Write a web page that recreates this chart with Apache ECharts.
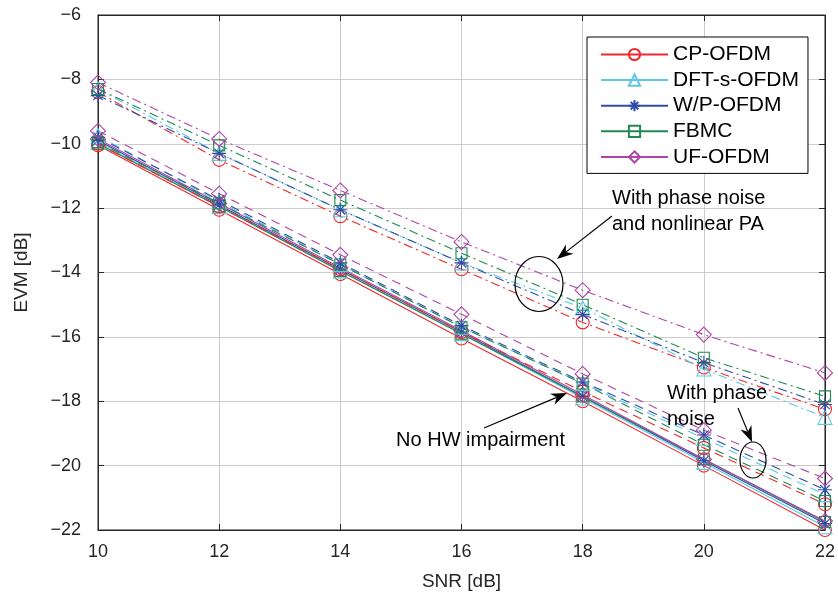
<!DOCTYPE html>
<html>
<head>
<meta charset="utf-8">
<script src="https://cdn.jsdelivr.net/npm/echarts@6/dist/echarts.min.js"></script>
<style>
html,body{margin:0;padding:0;background:#fff;}
#chart{width:838px;height:598px;}
</style>
</head>
<body>
<div id="chart"></div>
<script>
// ---- data ----
const snr = [10, 12, 14, 16, 18, 20, 22];
const xTicks = [10, 12, 14, 16, 18, 20, 22];
const yTicks = [-22, -20, -18, -16, -14, -12, -10, -8, -6];
const schemes = ['CP-OFDM', 'DFT-s-OFDM', 'W/P-OFDM', 'FBMC', 'UF-OFDM'];

// No HW impairment (solid)
const noHW_CP   = [-10.05, -12.05, -14.05, -16.05, -18.0, -20.0, -22.0];
const noHW_DFT  = [-9.95, -11.95, -13.95, -15.9, -17.9, -19.9, -21.9];
const noHW_WP   = [-9.9, -11.9, -13.9, -15.85, -17.85, -19.85, -21.8];
const noHW_FBMC = [-10.0, -11.95, -13.95, -15.9, -17.85, -19.8, -21.75];
const noHW_UF   = [-9.85, -11.85, -13.85, -15.8, -17.8, -19.8, -21.72];

// With phase noise (dashed)
const pn_CP   = [-10.0, -11.95, -13.9, -15.85, -17.7, -19.45, -21.2];
const pn_DFT  = [-9.75, -11.8, -13.75, -15.7, -17.45, -19.15, -20.9];
const pn_WP   = [-9.8, -11.75, -13.7, -15.65, -17.4, -19.05, -20.75];
const pn_FBMC = [-9.95, -11.85, -13.75, -15.7, -17.45, -19.35, -21.1];
const pn_UF   = [-9.6, -11.55, -13.45, -15.3, -17.15, -18.9, -20.4];

// With phase noise and nonlinear PA (dash-dot)
const pnpa_CP   = [-8.4, -10.5, -12.25, -13.9, -15.55, -16.95, -18.25];
const pnpa_DFT  = [-8.3, -10.3, -12.05, -13.7, -15.1, -17.0, -18.5];
const pnpa_WP   = [-8.5, -10.3, -12.05, -13.7, -15.3, -16.8, -18.1];
const pnpa_FBMC = [-8.3, -10.05, -11.75, -13.4, -15.0, -16.65, -17.85];
const pnpa_UF   = [-8.1, -9.85, -11.45, -13.05, -14.55, -15.93, -17.12];

// ---- styles ----
const colors = ['#f0282d', '#5cc8e4', '#2f4ba8', '#1e8a50', '#b044a8'];
const STAR = 'path://M5,0 L5,10 M0,5 L10,5 M1.6,1.6 L8.4,8.4 M8.4,1.6 L1.6,8.4';
const symbols = ['circle', 'triangle', STAR, 'rect', 'diamond'];
const symSizes = [13, 14, 14, 11, 15];

const groups = [
  {suffix: '', type: 'solid', data: [noHW_CP, noHW_DFT, noHW_WP, noHW_FBMC, noHW_UF]},
  {suffix: ' (PN)', type: [9, 6], data: [pn_CP, pn_DFT, pn_WP, pn_FBMC, pn_UF]},
  {suffix: ' (PN+PA)', type: [9, 4, 2, 4], data: [pnpa_CP, pnpa_DFT, pnpa_WP, pnpa_FBMC, pnpa_UF]}
];

const series = [];
groups.forEach(g => {
  g.data.forEach((vals, i) => {
    series.push({
      name: schemes[i] + g.suffix,
      type: 'line',
      data: snr.map((x, k) => [x, vals[k]]),
      symbol: symbols[i],
      symbolSize: symSizes[i],
      symbolKeepAspect: true,
      showSymbol: true,
      lineStyle: {color: colors[i], width: 1.1, type: g.type},
      itemStyle: {color: 'rgba(255,255,255,0)', borderColor: colors[i], borderWidth: 1.1},
      emphasis: {disabled: true},
      z: 2
    });
  });
});

const FONT = '"Liberation Sans", Arial, Helvetica, sans-serif';
const minus = v => (v < 0 ? '\u2212' + Math.abs(v) : String(v));

// ---- annotations (pixel layout) ----
function arrow(x1, y1, x2, y2) {
  const dx = x2 - x1, dy = y2 - y1, L = Math.hypot(dx, dy);
  const ux = dx / L, uy = dy / L, px = -uy, py = ux;
  const hl = 16, hw = 6;
  const bx = x2 - ux * hl, by = y2 - uy * hl;
  const nx = x2 - ux * hl * 0.7, ny = y2 - uy * hl * 0.7;
  return [
    {type: 'line', shape: {x1: x1, y1: y1, x2: nx, y2: ny}, style: {stroke: '#000', lineWidth: 1.2}, z: 10},
    {type: 'polygon', shape: {points: [[x2, y2], [bx + px * hw, by + py * hw], [nx, ny], [bx - px * hw, by - py * hw]]},
     style: {fill: '#000'}, z: 10}
  ];
}
const txtStyle = (t, x, y, align) => ({
  type: 'text', x: x, y: y, z: 10,
  style: {text: t, font: '20px ' + FONT, fill: '#000', align: align || 'left', verticalAlign: 'middle'}
});

const graphics = [
  txtStyle('With phase noise', 612, 198),
  txtStyle('and nonlinear PA', 612, 224),
  {type: 'ellipse', shape: {cx: 539, cy: 284, rx: 24, ry: 27.5}, style: {fill: 'none', stroke: '#000', lineWidth: 1.2}, z: 10},
  ...arrow(612, 216, 557, 259),
  txtStyle('With phase', 667, 393),
  txtStyle('noise', 667, 419),
  {type: 'ellipse', shape: {cx: 753, cy: 460, rx: 13, ry: 18}, style: {fill: 'none', stroke: '#000', lineWidth: 1.2}, z: 10},
  ...arrow(738, 408, 752, 442),
  txtStyle('No HW impairment', 565, 440, 'right'),
  ...arrow(484, 428, 567, 393)
];

const chart = echarts.init(document.getElementById('chart'), null, {renderer: 'canvas'});
const axisCommon = {
  type: 'value',
  axisLine: {show: true, lineStyle: {color: '#262626', width: 1}},
  axisTick: {show: true, inside: true, length: 6, lineStyle: {color: '#262626'}},
  splitLine: {show: false}
};
chart.setOption({
  animation: false,
  backgroundColor: '#fff',
  grid: {left: 98, right: 4, top: 15, bottom: 68, show: true, borderColor: '#262626', borderWidth: 1, containLabel: false},
  xAxis: [
    Object.assign({}, axisCommon, {
      min: xTicks[0], max: xTicks[xTicks.length - 1], interval: 2,
      splitLine: {show: true, lineStyle: {color: '#cccccc', width: 1}},
      axisLabel: {color: '#262626', fontSize: 18, fontFamily: FONT, margin: 13},
      name: 'SNR [dB]', nameLocation: 'middle', nameGap: 42,
      nameTextStyle: {color: '#262626', fontSize: 19, fontFamily: FONT}
    }),
    Object.assign({}, axisCommon, {
      position: 'top', min: xTicks[0], max: xTicks[xTicks.length - 1], interval: 2,
      axisLabel: {show: false}
    })
  ],
  yAxis: [
    Object.assign({}, axisCommon, {
      min: yTicks[0], max: yTicks[yTicks.length - 1], interval: 2,
      splitLine: {show: true, lineStyle: {color: '#cccccc', width: 1}},
      axisLabel: {color: '#262626', fontSize: 18, fontFamily: FONT, margin: 17, formatter: minus},
      name: 'EVM [dB]', nameLocation: 'middle', nameGap: 67, nameRotate: 90,
      nameTextStyle: {color: '#262626', fontSize: 19, fontFamily: FONT}
    }),
    Object.assign({}, axisCommon, {
      position: 'right', min: yTicks[0], max: yTicks[yTicks.length - 1], interval: 2,
      axisLabel: {show: false}
    })
  ],
  legend: {
    data: schemes,
    left: 587, top: 37,
    orient: 'vertical',
    backgroundColor: '#fff',
    borderColor: '#000', borderWidth: 1,
    padding: [7, 9, 6, 13],
    itemWidth: 67, itemHeight: 14, itemGap: 4.6,
    textStyle: {fontSize: 21, fontFamily: FONT, color: '#000', lineHeight: 21},
    selectedMode: false
  },
  graphic: graphics,
  series: series
});
</script>
</body>
</html>
